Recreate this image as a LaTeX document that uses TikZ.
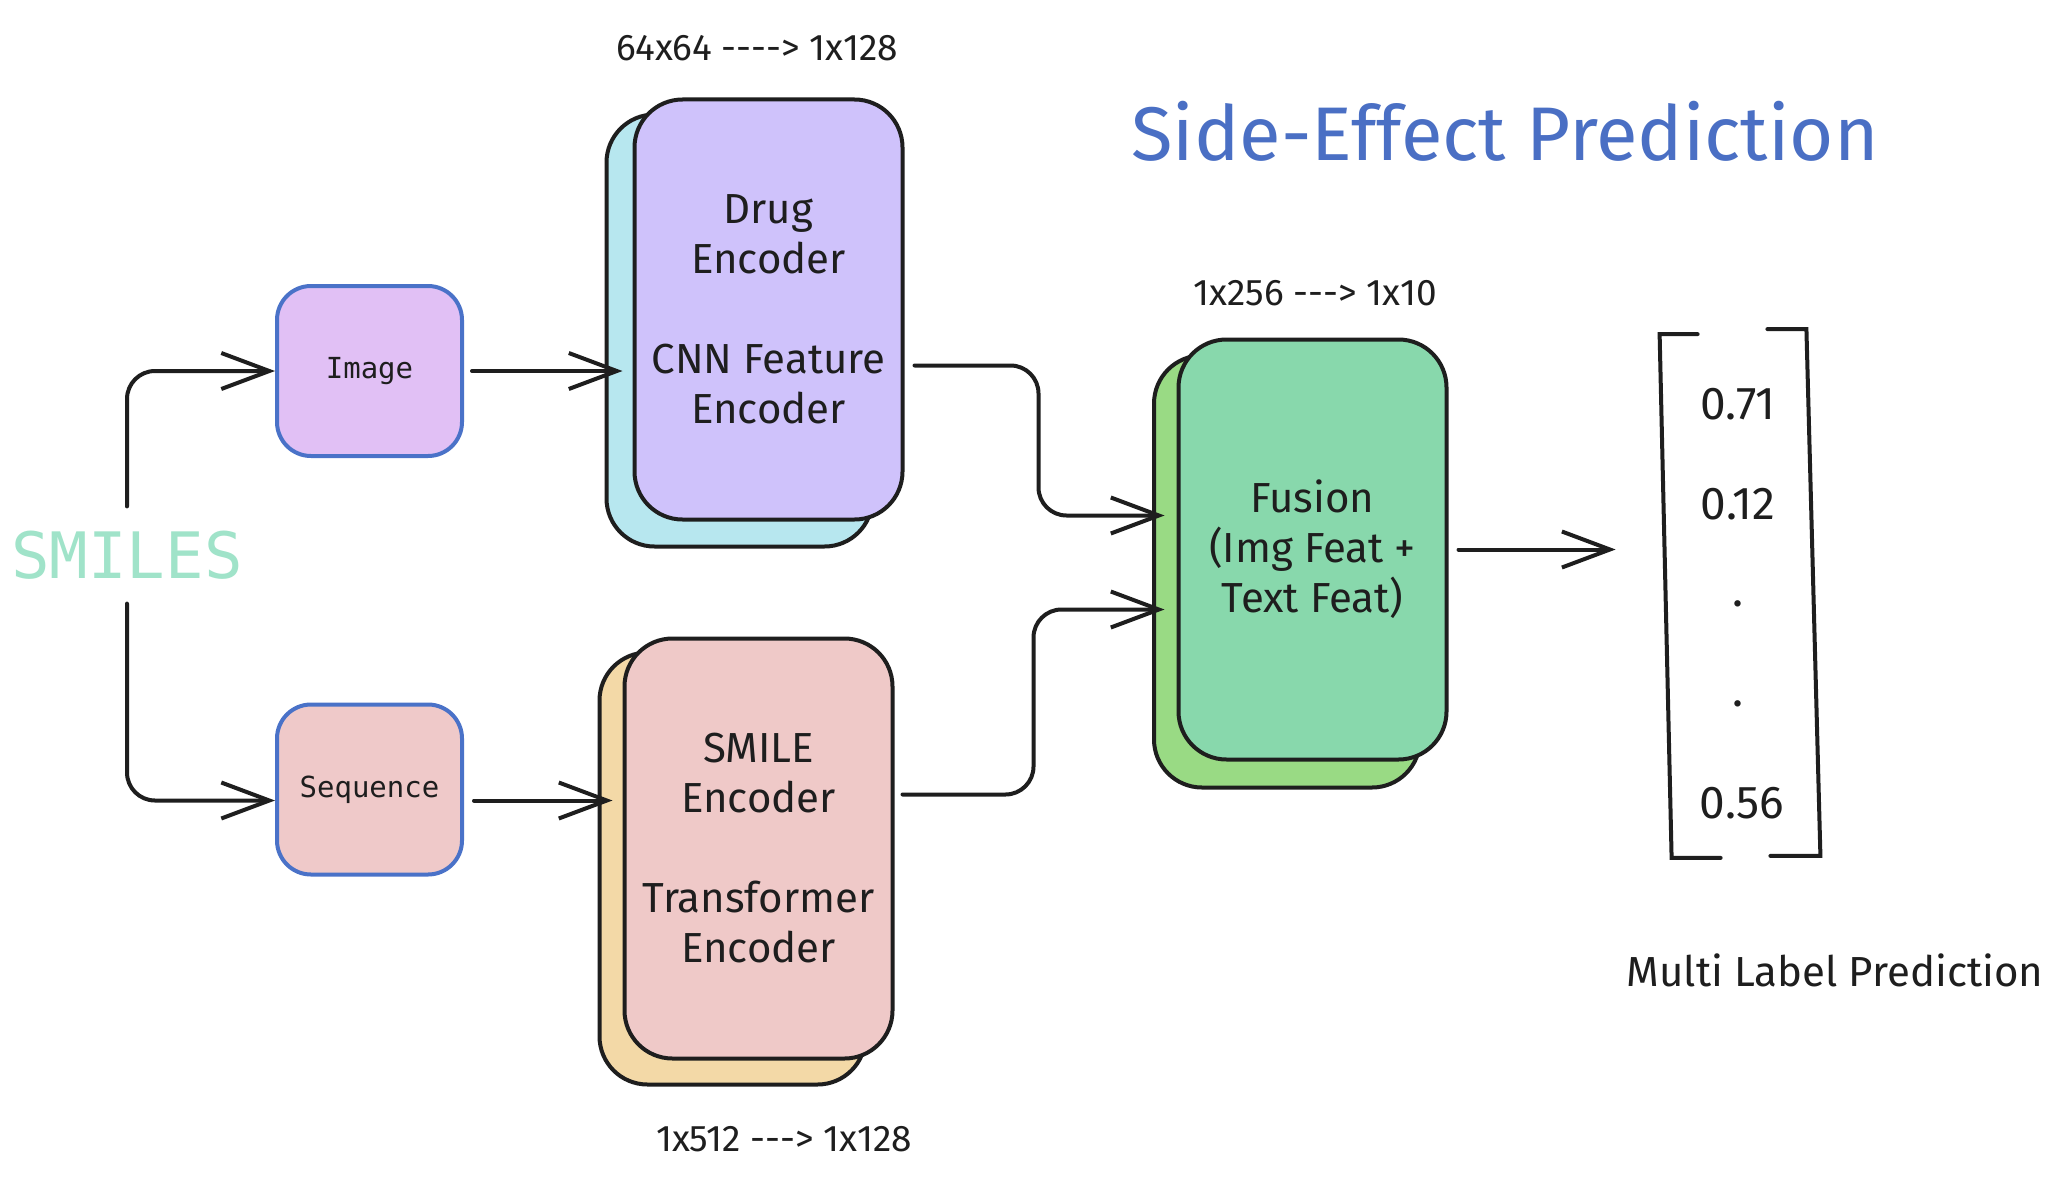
\documentclass[tikz,border=0pt]{standalone}
\usepackage{fontspec}
\setmainfont{Fira Sans}
\newfontfamily\codefont{DejaVu Sans Mono}
\usetikzlibrary{arrows.meta}
\definecolor{ink}{HTML}{1E1E1E}
\definecolor{boxblue}{HTML}{4A72C8}
\definecolor{titleblue}{HTML}{4A6FC4}
\definecolor{smilesgreen}{HTML}{A0E3C9}
\definecolor{imgfill}{HTML}{E1C0F5}
\definecolor{seqfill}{HTML}{EFC9C9}
\definecolor{drugfill}{HTML}{CFC2FB}
\definecolor{drugback}{HTML}{B7E7EF}
\definecolor{smilefill}{HTML}{EFC9C8}
\definecolor{smileback}{HTML}{F3D9A7}
\definecolor{fusionfill}{HTML}{88D8AC}
\definecolor{fusionback}{HTML}{99DA84}
\tikzset{input box/.style={draw=boxblue,line width=2pt,rounded corners=17pt,minimum width=92.5pt,minimum height=85pt,inner sep=0,font=\codefont\fontsize{14.5}{17}\selectfont,text=ink}}
\tikzset{enc box/.style={draw=ink,line width=2pt,rounded corners=24pt,minimum width=134pt,minimum height=210pt,inner sep=0,align=center,text=ink,font=\fontsize{21}{25}\selectfont}}
\tikzset{enc back/.style={enc box,minimum width=133pt,minimum height=216pt}}
\tikzset{arr/.style={draw=ink,line width=2pt,rounded corners=14pt,line cap=round,-{Straight Barb[length=24pt,width=18pt,line width=2pt]}}}
\tikzset{dim label/.style={text=ink,font=\fontsize{18.5}{21}\selectfont}}
\tikzset{val/.style={text=ink,font=\fontsize{23}{26}\selectfont}}
\def\dsh{\mbox{-}}

\begin{document}
\begin{tikzpicture}[x=0.5pt,y=-0.5pt]
        \useasboundingbox[fill=white] (0,0) rectangle (2048,1188);

          %タイトル
          \node[text=titleblue, font=\fontsize{38}{44}\selectfont] (title) at (1505,131) {Side-Effect Prediction};

          %SMILES
          \node[text=smilesgreen, inner sep=0, font=\codefont\fontsize{32}{36}\selectfont] (smiles) at (127,555) {SMILES};

          %入力
          \node[input box, fill=imgfill] (img) at (369.5,371) {Image};
          \node[input box, fill=seqfill] (seq) at (369.5,789.5) {Sequence};

          %Drug Encoder
          \node[enc back, fill=drugback] (drugB) at (739.5,330.5) {};
          \node[enc box, fill=drugfill] (drug) at (768.5,309.5) {Drug\\Encoder\\[25pt]CNN Feature\\Encoder};
          \node[dim label] (dimdrug) at (757,48) {64x64 \dsh\dsh\dsh\dsh> 1x128};

          %SMILE Encoder
          \node[enc back, fill=smileback] (smileB) at (732.5,868.5) {};
          \node[enc box, fill=smilefill] (smile) at (758.5,848.5) {SMILE\\Encoder\\[25pt]Transformer\\Encoder};
          \node[dim label] (dimsmile) at (784,1139) {1x512 \dsh\dsh\dsh> 1x128};

          %Fusion
          \node[enc back, fill=fusionback] (fusionB) at (1287,571.5) {};
          \node[enc box, fill=fusionfill] (fusion) at (1312.5,549.5) {Fusion\\(Img Feat +\\Text Feat)};
          \node[dim label] (dimfusion) at (1315,293) {1x256 \dsh\dsh\dsh> 1x10};

          %出力ベクトル
          \node[minimum width=80pt, minimum height=261.5pt, inner sep=0] (vec) at (1740,596) {};
          \draw[ink, line width=2pt, line cap=round] ([xshift=19pt]vec.north west) -- (vec.north west) -- ([xshift=6pt]vec.south west) -- ([xshift=30.5pt]vec.south west);
          \draw[ink, line width=2pt, line cap=round] ([xshift=-26.5pt,yshift=2.5pt]vec.north east) -- ([xshift=-7pt,yshift=2.5pt]vec.north east) -- ([yshift=1pt]vec.south east) -- ([xshift=-25pt,yshift=1pt]vec.south east);
          \node[val] (v1) at (1738,404) {0.71};
          \node[val] (v2) at (1738,504) {0.12};
          \node[val] (v3) at (1738,604) {.};
          \node[val] (v4) at (1738,704) {.};
          \node[val] (v5) at (1742,803) {0.56};
          \node[val, font=\fontsize{21}{24}\selectfont] (multi) at (1835,970) {Multi Label Prediction};

          %矢印
          \draw[arr] ([yshift=12pt]smiles.north) |- (img.west);
          \draw[arr] ([yshift=-12pt]smiles.south) |- ([yshift=-5.5pt]seq.west);
          \draw[arr, shorten <=4pt, shorten >=5pt] (img.east) -- (drug.west |- img.east);
          \draw[arr, shorten <=5pt, shorten >=5pt] ([yshift=-5.5pt]seq.east) -- ([yshift=-5.5pt]smile.west |- seq.east);
          \draw[arr, shorten <=5pt, shorten >=6pt] ([yshift=-28pt]drug.east) -- ++(134,0) |- ([yshift=17pt]fusion.west);
          \draw[arr, shorten <=4pt, shorten >=6pt] ([yshift=27pt]smile.east) -- ++(139,0) |- ([yshift=-30pt]fusion.west);
          \draw[arr, shorten <=5pt, shorten >=22pt] (fusion.east) -- (vec.west |- fusion.east);

        \end{tikzpicture}
\end{document}
